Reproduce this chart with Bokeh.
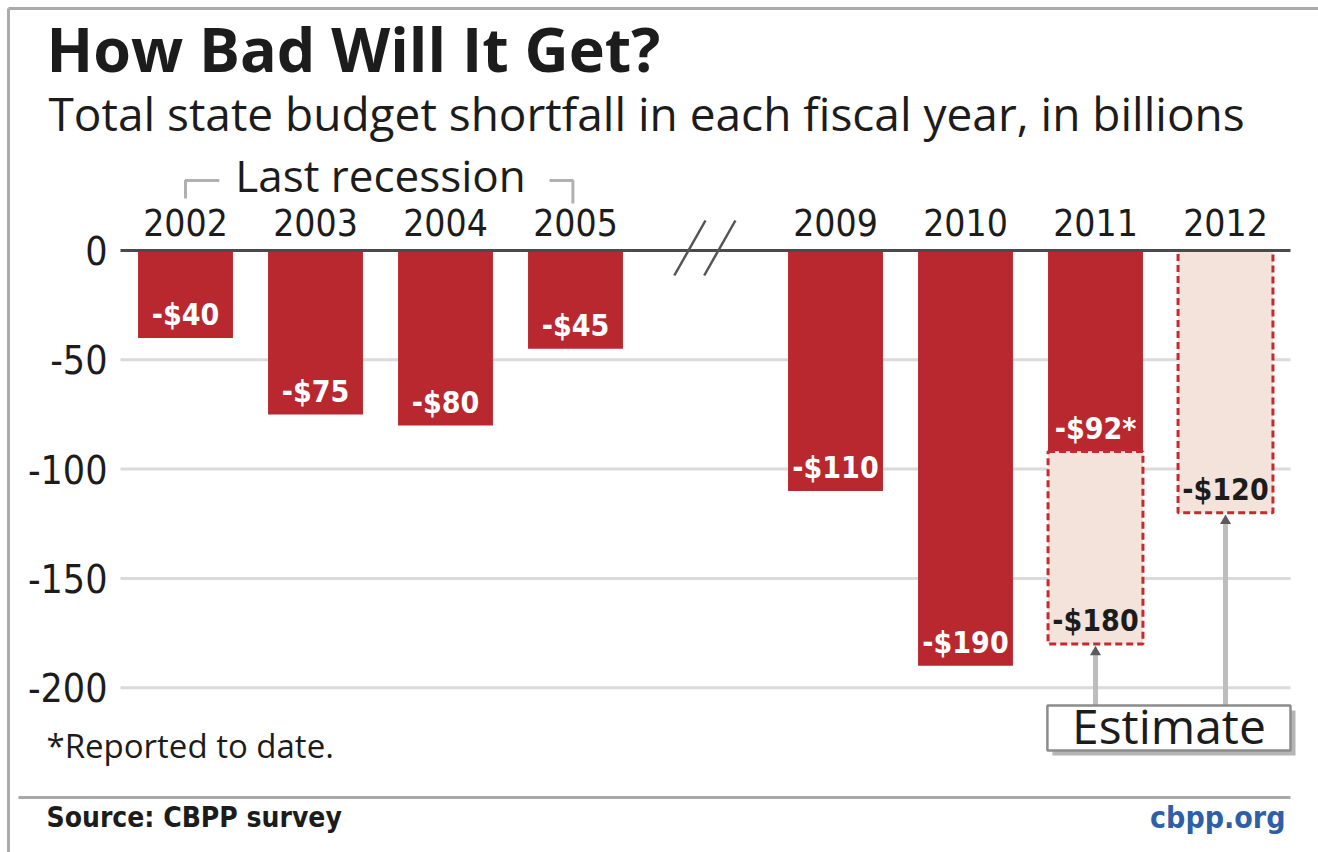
from bokeh.plotting import figure
from bokeh.models import ColumnDataSource, Range1d
from bokeh.core.properties import value
from bokeh.embed import file_html
from bokeh.resources import INLINE

# ---------------- data ----------------
years = ["2002", "2003", "2004", "2005", "2009", "2010", "2011", "2012"]
year_slots = [0, 1, 2, 3, 5, 6, 7, 8]          # slot 4 is the axis break
break_slot = 4

reported_years = ["2002", "2003", "2004", "2005", "2009", "2010", "2011"]
reported_values = [-40, -75, -80, -45, -110, -190, -92]
reported_labels = ["-$40", "-$75", "-$80", "-$45", "-$110", "-$190", "-$92*"]

estimate_years = ["2011", "2012"]
estimate_from = [-92, 0]
estimate_values = [-180, -120]
estimate_labels = ["-$180", "-$120"]

y_ticks = [0, -50, -100, -150, -200]
y_tick_labels = ["0", "-50", "-100", "-150", "-200"]
recession_years = ["2002", "2005"]

# ---------------- layout helpers (pixel -> data) ----------------
X0_PX, XS = 185.0, 130.0
Y0_PX, YS = 250.0, 2.186
def dx(px): return (px - X0_PX) / XS
def dy(py): return (Y0_PX - py) / YS
def ypx(n): return n / YS  # pixel height in data units

slot = dict(zip(years, year_slots))

RED = "#b9272f"
PINK = "#f3e3da"
DARK = "#1c1c1c"
COND = "DejaVu Sans Condensed"
SANS = "Open Sans"

p = figure(width=1318, height=852, output_backend="svg", toolbar_location=None,
           x_range=Range1d(dx(0), dx(1318)), y_range=Range1d(dy(852), dy(0)),
           x_axis_location=None, y_axis_location=None,
           min_border_left=0, min_border_right=0, min_border_top=0, min_border_bottom=0)
p.outline_line_color = None
p.background_fill_color = "white"
p.border_fill_color = "white"
p.grid.visible = False

plot_l, plot_r = dx(120), dx(1290)

# grid lines
grid_ticks = [t for t in y_ticks if t != 0]
p.segment(x0=[plot_l] * len(grid_ticks), x1=[plot_r] * len(grid_ticks), y0=grid_ticks,
          y1=grid_ticks, line_color="#dadada", line_width=3)

# y tick labels
tsrc = ColumnDataSource(dict(x=[dx(107)] * len(y_ticks), y=y_ticks, t=y_tick_labels))
p.text(x="x", y="y", text="t", source=tsrc, text_align="right", text_baseline="middle",
       text_color=DARK, text_font=value(COND), text_font_size="39px")

# reported bars
rsrc = ColumnDataSource(dict(x=[slot[y] for y in reported_years], v=reported_values,
                             lab=reported_labels,
                             ly=[v + ypx(23) for v in reported_values]))
p.vbar(x="x", top=0, bottom="v", width=0.73, source=rsrc, fill_color=RED, line_color=None)

# estimate bars
esrc = ColumnDataSource(dict(x=[slot[y] for y in estimate_years], top=estimate_from,
                             v=estimate_values, lab=estimate_labels,
                             ly=[v + ypx(23) for v in estimate_values]))
p.vbar(x="x", top="top", bottom="v", width=0.73, source=esrc, fill_color=PINK,
       line_color="#c42a30", line_width=3, line_dash="7 4")

# zero line
p.segment(x0=[plot_l], x1=[plot_r], y0=[0], y1=[0], line_color="#4a4a4a", line_width=3)

# value labels
p.text(x="x", y="ly", text="lab", source=rsrc, text_align="center", text_baseline="middle",
       text_color="white", text_font=value(COND), text_font_style="bold", text_font_size="30px")
p.text(x="x", y="ly", text="lab", source=esrc, text_align="center", text_baseline="middle",
       text_color=DARK, text_font=value(COND), text_font_style="bold", text_font_size="30px")

# year labels
ysrc = ColumnDataSource(dict(x=year_slots, y=[ypx(28)] * len(years), t=years))
p.text(x="x", y="y", text="t", source=ysrc, text_align="center", text_baseline="middle",
       text_color=DARK, text_font=value(COND), text_font_size="37px")

# axis break marks
bx = break_slot
p.segment(x0=[bx - 0.24, bx - 0.01], y0=[-ypx(25)] * 2, x1=[bx + 0.0, bx + 0.23],
          y1=[ypx(30)] * 2, line_color="#555555", line_width=2.5)

# "Last recession" bracket
r0, r1 = slot[recession_years[0]], slot[recession_years[1]]
mid = (r0 + r1) / 2
top_y = ypx(70)
p.multi_line(xs=[[r0, r0, r0 + 0.26], [r1 - 0.2, r1 - 0.02, r1 - 0.02]],
             ys=[[ypx(52), top_y, top_y], [top_y, top_y, ypx(47)]],
             line_color="#b0b0b0", line_width=3)
p.text(x=[mid], y=[ypx(76)], text=["Last recession"], text_align="center",
       text_baseline="middle", text_color=DARK, text_font=value(SANS),
       text_font_size="44px")

# Estimate box with arrows
ex = [slot[y] for y in estimate_years]
box_top, box_bot = dy(705), dy(750)
box_l, box_r = ex[0] - 0.37, ex[1] + 0.5
p.segment(x0=ex, y0=[box_top] * 2, x1=ex, y1=[v - ypx(9) for v in estimate_values],
          line_color="#bdbdbd", line_width=5)
p.scatter(x=ex, y=[v - ypx(8) for v in estimate_values], marker="triangle",
          size=11, fill_color="#5a5a5a", line_color=None)
p.quad(left=[box_l + 5 / XS], right=[box_r + 5 / XS], top=[box_top - ypx(5)],
       bottom=[box_bot - ypx(5)], fill_color="#b5b5b5", line_color=None)
p.quad(left=[box_l], right=[box_r], top=[box_top], bottom=[box_bot],
       fill_color="white", line_color="#8c8c8c", line_width=2.5)
p.text(x=[(box_l + box_r) / 2], y=[(box_top + box_bot) / 2 + ypx(3)], text=["Estimate"],
       text_align="center", text_baseline="middle", text_color=DARK,
       text_font=value(SANS), text_font_size="48px")

# ---------------- titles and footer ----------------
p.text(x=[dx(46)], y=[dy(48)], text=["How Bad Will It Get?"], text_baseline="middle",
       text_font=value(SANS), text_font_style="bold", text_font_size="61px", text_color=DARK)
p.text(x=[dx(48)], y=[dy(112)], text=["Total state budget shortfall in each fiscal year, in billions"],
       text_baseline="middle", text_font=value(SANS), text_font_size="46px", text_color=DARK)
p.text(x=[dx(46)], y=[dy(745)], text=["*Reported to date."], text_baseline="middle",
       text_font=value(SANS), text_font_size="33px", text_color=DARK)
p.text(x=[dx(46)], y=[dy(817)], text=["Source: CBPP survey"], text_baseline="middle",
       text_font=value(COND), text_font_style="bold", text_font_size="28px", text_color=DARK)
p.text(x=[dx(1285)], y=[dy(817)], text=["cbpp.org"], text_baseline="middle",
       text_align="right", text_font=value(COND), text_font_style="bold",
       text_font_size="30px", text_color="#2f5fa8")

# source rule and outer frame lines
p.segment(x0=[dx(18)], x1=[dx(1290)], y0=[dy(797)], y1=[dy(797)], line_color="#a8a8a8", line_width=3)
p.segment(x0=[dx(8), dx(8)], x1=[dx(8), dx(1318)], y0=[dy(852), dy(8)], y1=[dy(8), dy(8)],
          line_color="#ababab", line_width=3)

open("out.html", "w").write(file_html(p, INLINE))
